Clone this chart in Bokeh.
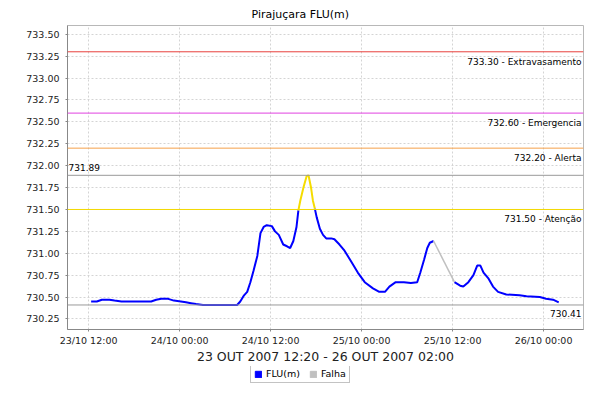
import pandas as pd
from bokeh.plotting import figure
from bokeh.layouts import column
from bokeh.models import (Range1d, FixedTicker, PrintfTickFormatter, DatetimeTickFormatter,
                          Span, Label, Legend, LegendItem, ColumnDataSource)
from bokeh.embed import file_html
from bokeh.resources import INLINE

# ---------------- data ----------------
flu_times = [
    "2007-10-23 12:20", "2007-10-23 13:05", "2007-10-23 13:45", "2007-10-23 14:45", "2007-10-23 15:25",
    "2007-10-23 16:20", "2007-10-23 20:15", "2007-10-23 20:55", "2007-10-23 21:35", "2007-10-23 22:30",
    "2007-10-23 23:15", "2007-10-24 00:10", "2007-10-24 00:50", "2007-10-24 01:30", "2007-10-24 02:10",
    "2007-10-24 03:05", "2007-10-24 07:35", "2007-10-24 08:00", "2007-10-24 08:30", "2007-10-24 08:55",
    "2007-10-24 09:20", "2007-10-24 09:45", "2007-10-24 10:15", "2007-10-24 10:40", "2007-10-24 11:05",
    "2007-10-24 11:30", "2007-10-24 12:10", "2007-10-24 12:35", "2007-10-24 13:05", "2007-10-24 13:40",
    "2007-10-24 14:10", "2007-10-24 14:35", "2007-10-24 15:00", "2007-10-24 15:25", "2007-10-24 15:40",
    "2007-10-24 15:55", "2007-10-24 16:20", "2007-10-24 16:45", "2007-10-24 17:00", "2007-10-24 17:20",
    "2007-10-24 17:35", "2007-10-24 17:50", "2007-10-24 18:05", "2007-10-24 18:30", "2007-10-24 18:55",
    "2007-10-24 19:20", "2007-10-24 20:00", "2007-10-24 20:25", "2007-10-24 21:05", "2007-10-24 21:45",
    "2007-10-24 22:40", "2007-10-24 23:30", "2007-10-25 00:25", "2007-10-25 01:30", "2007-10-25 02:20",
    "2007-10-25 03:05", "2007-10-25 03:40", "2007-10-25 04:30", "2007-10-25 05:35", "2007-10-25 06:30",
    "2007-10-25 07:20", "2007-10-25 07:45", "2007-10-25 08:15", "2007-10-25 08:40", "2007-10-25 09:00",
    "2007-10-25 09:30",
    "2007-10-25 12:15", "2007-10-25 13:00", "2007-10-25 13:25", "2007-10-25 14:05", "2007-10-25 14:45",
    "2007-10-25 15:15", "2007-10-25 15:40", "2007-10-25 16:05", "2007-10-25 16:45", "2007-10-25 17:20",
    "2007-10-25 18:00", "2007-10-25 19:05", "2007-10-25 20:50", "2007-10-25 21:45", "2007-10-25 23:30",
    "2007-10-26 00:20", "2007-10-26 01:15", "2007-10-26 02:00",
]
flu_values = [
    730.45, 730.45, 730.47, 730.47, 730.46,
    730.45, 730.45, 730.47, 730.48, 730.48,
    730.46, 730.45, 730.44, 730.43, 730.42,
    730.41, 730.41, 730.45, 730.52, 730.56,
    730.67, 730.80, 730.97, 731.23, 731.30,
    731.32, 731.31, 731.25, 731.21, 731.10,
    731.08, 731.06, 731.14, 731.30, 731.49,
    731.60, 731.75, 731.88, 731.89, 731.75,
    731.60, 731.51, 731.41, 731.28, 731.21,
    731.17, 731.17, 731.16, 731.10, 731.03,
    730.90, 730.78, 730.67, 730.60, 730.56,
    730.56, 730.62, 730.67, 730.67, 730.66,
    730.67, 730.78, 730.93, 731.06, 731.12,
    731.14,
    730.67, 730.63, 730.62, 730.67, 730.75,
    730.86, 730.86, 730.78, 730.71, 730.62,
    730.56, 730.53, 730.52, 730.51, 730.50,
    730.48, 730.47, 730.44,
]
falha_times = ["2007-10-25 09:30", "2007-10-25 12:15"]
falha_values = [731.14, 730.67]

threshold_values = [733.30, 732.60, 732.20, 731.50]
threshold_names = ["Extravasamento", "Emergencia", "Alerta", "Atenção"]
threshold_colors = ["#e8403c", "#e040e0", "#f5a04a", "#f2d800"]

y_ticks = [730.25, 730.50, 730.75, 731.00, 731.25, 731.50, 731.75, 732.00,
           732.25, 732.50, 732.75, 733.00, 733.25, 733.50]
x_ticks = ["2007-10-23 12:00", "2007-10-24 00:00", "2007-10-24 12:00",
           "2007-10-25 00:00", "2007-10-25 12:00", "2007-10-26 00:00"]

title_text = "Pirajuçara FLU(m)"
x_label = "23 OUT 2007 12:20 - 26 OUT 2007 02:00"
legend_labels = ["FLU(m)", "Falha"]

# ---------------- processing ----------------
FONT = "DejaVu Sans"
ft = pd.to_datetime(pd.Series(flu_times))
fv = pd.Series(flu_values)
fal_t = pd.to_datetime(pd.Series(falha_times))

att = threshold_values[-1]
hi_idx = [i for i in range(len(fv)) if fv[i] >= att - 0.011]
h0, h1 = hi_idx[0], hi_idx[-1]
i_gap0 = int((ft <= fal_t.iloc[0]).values.nonzero()[0][-1])
i_gap1 = int((ft >= fal_t.iloc[-1]).values.nonzero()[0][0])

blue_segments = [(0, h0), (h1, i_gap0), (i_gap1, len(fv) - 1)]

vmax, vmin = fv.max(), fv.min()

x_start = pd.Timestamp("2007-10-23 09:13")
x_end = pd.Timestamp("2007-10-26 05:16")

p = figure(width=584, height=366, output_backend="svg", toolbar_location=None,
           x_axis_type="datetime",
           x_range=Range1d(x_start, x_end), y_range=Range1d(730.13, 733.60),
           min_border_left=67, min_border_right=1, min_border_top=23, min_border_bottom=30)
p.background_fill_color = "white"
p.border_fill_color = "white"
p.outline_line_color = "#b8b8b8"

p.title.text = title_text
p.title.text_font = FONT
p.title.text_font_size = "11px"
p.title.text_font_style = "normal"
p.title.text_color = "#000000"
p.title.align = "left"
p.title.offset = 184
p.title.standoff = 10

# grids
for g in (p.xgrid, p.ygrid):
    g.grid_line_color = "#d4d4d4"
    g.grid_line_dash = "2 2"
    g.grid_line_width = 1

# axes
p.yaxis.ticker = FixedTicker(ticks=y_ticks)
p.yaxis.formatter = PrintfTickFormatter(format="%.2f")
xt = [pd.Timestamp(t).value // 10**6 for t in x_ticks]
p.xaxis.ticker = FixedTicker(ticks=xt)
fmt = "%d/%m %H:%M"
p.xaxis.formatter = DatetimeTickFormatter(milliseconds=fmt, seconds=fmt, minsec=fmt, minutes=fmt,
                                          hourmin=fmt, hours=fmt, days=fmt, months=fmt, years=fmt)
for ax in (p.xaxis, p.yaxis):
    ax.axis_line_color = "#888888"
    ax.major_tick_line_color = "#888888"
    ax.major_tick_out = 2
    ax.major_tick_in = 0
    ax.minor_tick_out = 0
    ax.minor_tick_in = 0
    ax.major_label_text_font = FONT
    ax.major_label_text_font_size = "9.5px"
    ax.major_label_text_color = "#222222"
p.yaxis.major_label_standoff = 6
p.xaxis.major_label_standoff = 3
p.xaxis.axis_label = x_label
p.xaxis.axis_label_text_font = FONT
p.xaxis.axis_label_text_font_size = "12.5px"
p.xaxis.axis_label_text_font_style = "normal"
p.xaxis.axis_label_text_color = "#222222"
p.xaxis.axis_label_standoff = 0

# threshold lines and labels
for v, name, col in zip(threshold_values, threshold_names, threshold_colors):
    p.add_layout(Span(location=v, dimension="width", line_color=col, line_width=1))
    p.add_layout(Label(x=x_end, y=v, text=f"{v:.2f} - {name}", text_align="right",
                       text_baseline="top", x_offset=-2, y_offset=-5,
                       text_font=FONT, text_font_size="9px", text_color="#000000"))
p.add_layout(Span(location=vmax, dimension="width", line_color="#999999", line_width=1))
p.add_layout(Label(x=x_start, y=vmax, text=f"{vmax:.2f}", text_align="left",
                   text_baseline="bottom", x_offset=1, y_offset=4,
                   text_font=FONT, text_font_size="9px", text_color="#000000"))
p.add_layout(Span(location=vmin, dimension="width", line_color="#999999", line_width=1))
p.add_layout(Label(x=x_end, y=vmin, text=f"{vmin:.2f}", text_align="right",
                   text_baseline="top", x_offset=-2, y_offset=-5,
                   text_font=FONT, text_font_size="9px", text_color="#000000"))

# series
for a, b in blue_segments:
    p.line(ft[a:b + 1], fv[a:b + 1], line_color="#0000ff", line_width=2)
p.line(ft[h0:h1 + 1], fv[h0:h1 + 1], line_color="#f5dc00", line_width=2)
p.line(fal_t, falha_values, line_color="#c0c0c0", line_width=1.5)

# legend strip below the chart
lf = figure(width=584, height=18, output_backend="svg", toolbar_location=None,
            x_range=Range1d(0, 1), y_range=Range1d(0, 1),
            x_axis_location=None, y_axis_location=None,
            min_border_left=0, min_border_right=0, min_border_top=0, min_border_bottom=0)
lf.outline_line_color = None
lf.xgrid.visible = False
lf.ygrid.visible = False
lf.background_fill_color = "white"
lf.border_fill_color = "white"
hidden = ColumnDataSource(data=dict(l=[5], r=[6], t=[6], b=[5]))
r_flu = lf.quad(left="l", right="r", top="t", bottom="b", source=hidden,
                fill_color="#0000ff", line_color="#0000ff")
r_fal = lf.quad(left="l", right="r", top="t", bottom="b", source=hidden,
                fill_color="#c0c0c0", line_color="#c0c0c0")
legend = Legend(items=[LegendItem(label=legend_labels[0], renderers=[r_flu]),
                       LegendItem(label=legend_labels[1], renderers=[r_fal])],
                orientation="horizontal", location=(183, 1),
                glyph_width=8, glyph_height=8, label_height=9, label_standoff=4,
                spacing=9, padding=3, margin=0,
                label_text_font=FONT, label_text_font_size="9.5px", label_text_color="#000000",
                border_line_color="#888888", background_fill_color="white")
lf.add_layout(legend)

layout = column(p, lf, spacing=0)
open("out.html", "w").write(file_html(layout, INLINE))
